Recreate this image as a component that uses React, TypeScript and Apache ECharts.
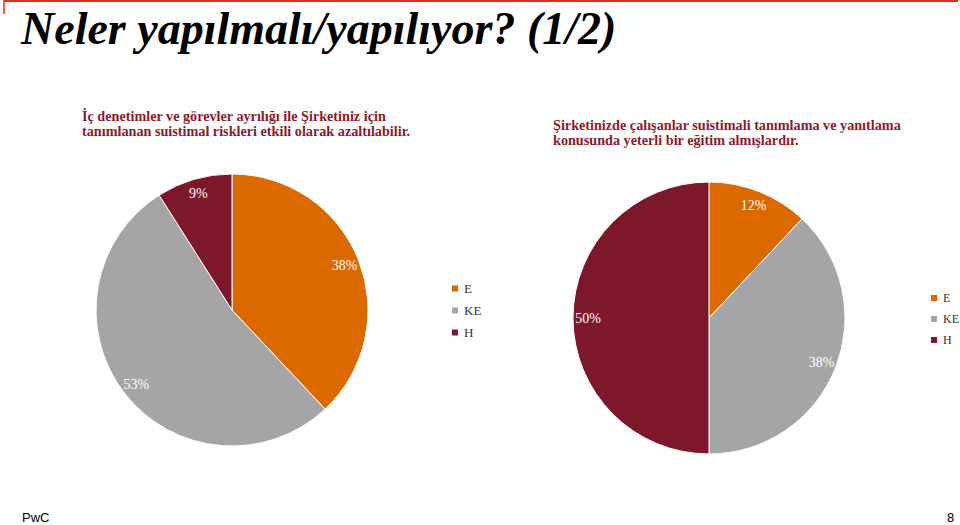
import React, { useEffect, useRef } from "react";
import * as echarts from "echarts";

const categories = ["E", "KE", "H"];
const colors = ["#DC6900", "#A5A5A5", "#7D182B"];
const pie1Values = [38, 53, 9];
const pie2Values = [12, 38, 50];
const titleText = "Neler yapılmalı/yapılıyor? (1/2)";
const subtitle1 = "İç denetimler ve görevler ayrılığı ile Şirketiniz için\ntanımlanan suistimal riskleri etkili olarak azaltılabilir.";
const subtitle2 = "Şirketinizde çalışanlar suistimali tanımlama ve yanıtlama\nkonusunda yeterli bir eğitim almışlardır.";
const footerLeft = "PwC";
const footerRight = "8";

const serif = "'Liberation Serif', 'DejaVu Serif', serif";

function makeData(values: number[]) {
  return categories.map((c, i) => ({ name: c, value: values[i], itemStyle: { color: colors[i] } }));
}

export default function App() {
  const ref = useRef<HTMLDivElement>(null);
  useEffect(() => {
    if (!ref.current) return;
    const chart = echarts.init(ref.current, null, { renderer: "svg" });
    const legendData = categories.map((c, i) => ({ name: c, itemStyle: { color: colors[i] } }));
    const pieBase = (center: number[], values: number[]) => ({
      type: "pie",
      center,
      radius: [0, 136],
      startAngle: 90,
      clockwise: true,
      silent: true,
      label: { show: false },
      labelLine: { show: false },
      itemStyle: { borderColor: "#ffffff", borderWidth: 1 },
      data: makeData(values),
    });
    const pieLabels = (center: number[], values: number[]) => ({
      type: "pie",
      center,
      radius: [100, 136],
      startAngle: 90,
      clockwise: true,
      silent: true,
      labelLine: { show: false },
      itemStyle: { color: "rgba(0,0,0,0)" },
      label: {
        show: true,
        position: "inside",
        formatter: "{c}%",
        color: "#ffffff",
        fontFamily: serif,
        fontSize: 14,
      },
      data: categories.map((c, i) => ({ name: c, value: values[i] })),
    });
    const legendCommon = {
      orient: "vertical",
      padding: 0,
      itemWidth: 8,
      itemHeight: 8,
      itemGap: 9,
      icon: "rect",
      selectedMode: false,
      data: legendData,
    };
    chart.setOption({
      animation: false,
      backgroundColor: "#ffffff",
      legend: [
        {
          ...legendCommon,
          left: 450,
          top: 282,
          textStyle: { fontFamily: serif, fontSize: 13, color: "#333333" },
        },
        {
          ...legendCommon,
          left: 929,
          top: 292,
          textStyle: { fontFamily: serif, fontSize: 12, color: "#333333" },
        },
      ],
      series: [
        pieBase([232, 310], pie1Values),
        pieBase([709, 318], pie2Values),
        pieLabels([232, 310], pie1Values),
        pieLabels([709, 318], pie2Values),
      ],
      graphic: [
        { type: "line", shape: { x1: 4, y1: 1, x2: 958, y2: 1 }, style: { stroke: "#E0301E", lineWidth: 2 } },
        { type: "line", shape: { x1: 4, y1: 0, x2: 4, y2: 14 }, style: { stroke: "#E0301E", lineWidth: 1.5 } },
        {
          type: "text",
          left: 21,
          top: 5,
          style: {
            text: titleText,
            fontFamily: serif,
            fontSize: 46,
            fontWeight: "bold",
            fontStyle: "italic",
            fill: "#000000",
          },
        },
        {
          type: "text",
          left: 82,
          top: 108,
          style: {
            text: subtitle1,
            fontFamily: serif,
            fontSize: 14.2,
            fontWeight: "bold",
            lineHeight: 15,
            fill: "#8B1A2B",
          },
        },
        {
          type: "text",
          left: 553,
          top: 117,
          style: {
            text: subtitle2,
            fontFamily: serif,
            fontSize: 14.2,
            fontWeight: "bold",
            lineHeight: 15,
            fill: "#8B1A2B",
          },
        },
        {
          type: "text",
          left: 22,
          top: 511,
          style: { text: footerLeft, fontFamily: "'Liberation Sans', Arial, sans-serif", fontSize: 13, fill: "#000000" },
        },
        {
          type: "text",
          left: 947,
          top: 511,
          style: { text: footerRight, fontFamily: "'Liberation Sans', Arial, sans-serif", fontSize: 13, fill: "#000000" },
        },
      ],
    });
    return () => chart.dispose();
  }, []);
  return <div ref={ref} style={{ position: "absolute", left: 0, top: 0, width: 960, height: 525 }} />;
}
